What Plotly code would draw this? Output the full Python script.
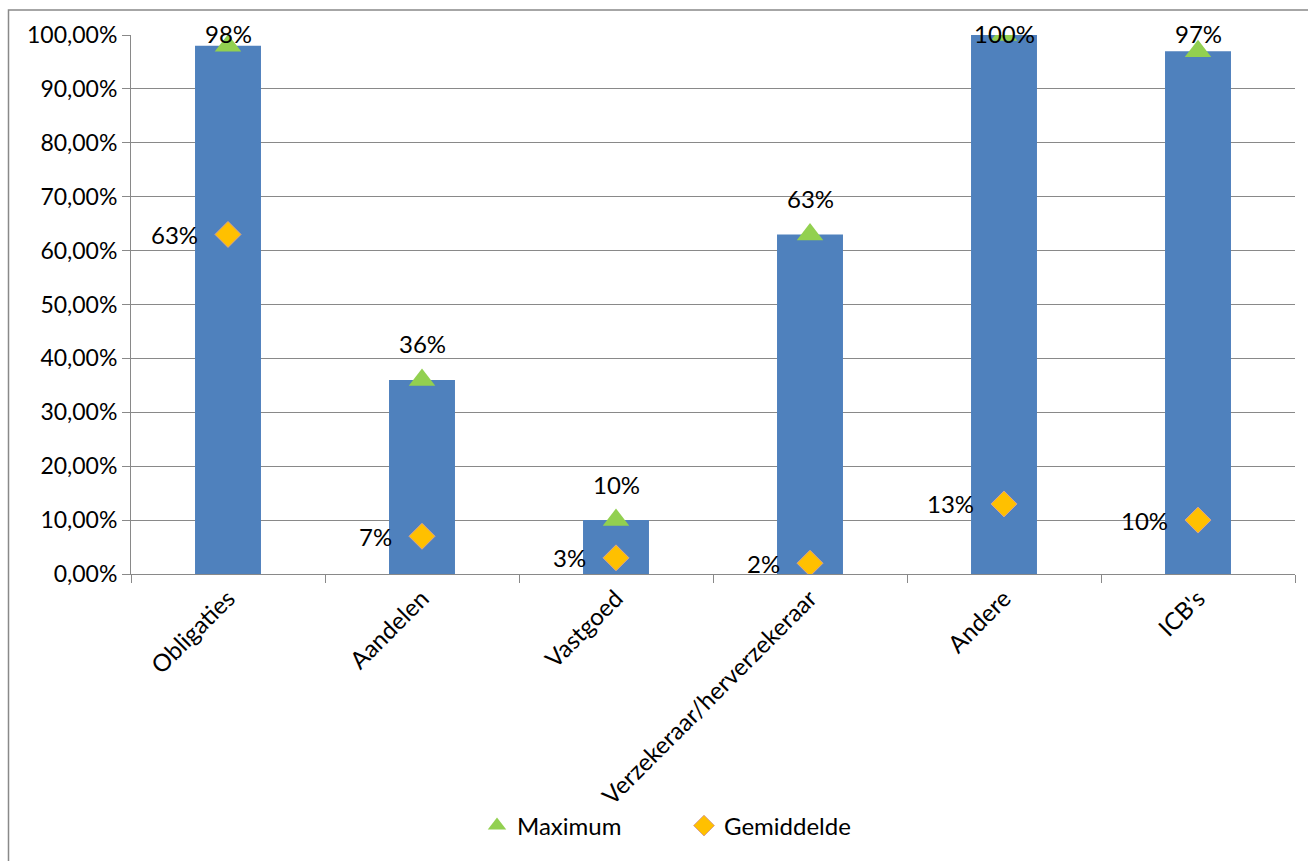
import plotly.graph_objects as go

categories = ["Obligaties", "Aandelen", "Vastgoed", "Verzekeraar/herverzekeraar", "Andere", "ICB's"]
maximum = [98, 36, 10, 63, 100, 97]
gemiddelde = [63, 7, 3, 2, 13, 10]
y_ticks = [0, 10, 20, 30, 40, 50, 60, 70, 80, 90, 100]
y_tick_labels = ["0,00%", "10,00%", "20,00%", "30,00%", "40,00%", "50,00%",
                 "60,00%", "70,00%", "80,00%", "90,00%", "100,00%"]

FONT = "Lato"
GRID = "#898989"
BAR_BLUE = "#4F81BD"
GREEN = "#92D050"
ORANGE = "#FFC000"

W, H = 1308, 861
M_L, M_R, M_T, M_B = 131, 13, 35, 287
plot_w = W - M_L - M_R
plot_h = H - M_T - M_B

fig = go.Figure()

fig.add_trace(go.Bar(
    x=categories, y=maximum, width=0.34,
    marker=dict(color=BAR_BLUE, line=dict(width=0)),
    showlegend=False, hoverinfo="skip",
))

fig.add_trace(go.Scatter(
    x=categories, y=maximum, mode="markers", name="Maximum",
    marker=dict(symbol="triangle-up", size=23, color=GREEN, line=dict(width=0)),
))

fig.add_trace(go.Scatter(
    x=categories, y=gemiddelde, mode="markers", name="Gemiddelde",
    marker=dict(symbol="diamond", size=20, color=ORANGE,
                line=dict(width=1, color="#D8A290")),
))

annotations = []
# Labels for the maximum series sit above the marker but stay inside the plot top
for c, v in zip(categories, maximum):
    marker_px = M_T + (100 - v) / 100 * plot_h
    label_px = max(marker_px - 36, 33)
    annotations.append(dict(
        x=c, y=v, xref="x", yref="y", text=f"{v}%", showarrow=False,
        yshift=marker_px - label_px, font=dict(family=FONT, size=24, color="#000"),
        xanchor="center", yanchor="middle",
    ))
# Labels for the average series sit to the left of the marker
for c, v in zip(categories, gemiddelde):
    annotations.append(dict(
        x=c, y=v, xref="x", yref="y", text=f"{v}%", showarrow=False,
        xshift=-28, font=dict(family=FONT, size=24, color="#000"),
        xanchor="right", yanchor="middle",
    ))

fig.update_layout(
    width=W, height=H,
    margin=dict(l=M_L, r=M_R, t=M_T, b=M_B),
    paper_bgcolor="white", plot_bgcolor="white",
    font=dict(family=FONT, size=24, color="#000"),
    annotations=annotations,
    legend=dict(
        orientation="h", x=(477 - M_L) / plot_w, xanchor="left",
        y=-(826 - (H - M_B)) / plot_h, yanchor="middle",
        yref="paper",
        font=dict(family=FONT, size=24, color="#000"),
        entrywidth=162, entrywidthmode="pixels",
        bgcolor="rgba(0,0,0,0)",
    ),
    shapes=[dict(
        type="rect", xref="paper", yref="paper",
        x0=(8.5 - M_L) / plot_w, x1=1.05,
        y0=-0.7, y1=1 + (M_T - 10) / plot_h,
        line=dict(color=GRID, width=1.5), fillcolor="rgba(0,0,0,0)", layer="below",
    )],
)

fig.update_xaxes(
    type="category", tickangle=-45, tickson="boundaries",
    ticks="outside", ticklen=8, tickcolor=GRID, tickwidth=1,
    showline=True, linecolor=GRID, linewidth=1,
    showgrid=False, zeroline=False,
    tickfont=dict(family=FONT, size=24, color="#000"),
)
fig.update_yaxes(
    range=[0, 100], tickvals=y_ticks, ticktext=y_tick_labels,
    ticks="outside", ticklen=8, tickcolor=GRID, tickwidth=1,
    showline=True, linecolor=GRID, linewidth=1,
    showgrid=True, gridcolor=GRID, gridwidth=1, zeroline=False,
    tickfont=dict(family=FONT, size=23, color="#000"),
)

fig.write_html("out.html")
